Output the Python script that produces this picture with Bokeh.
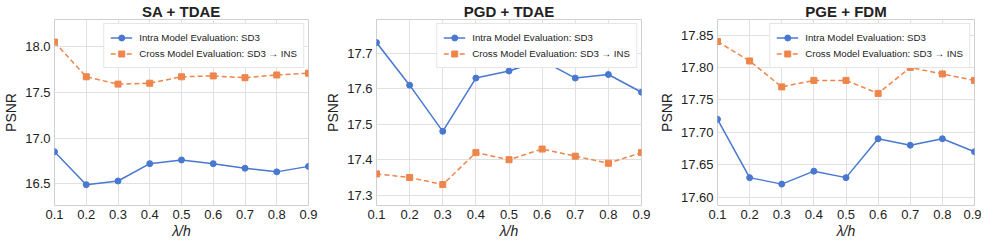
from bokeh.plotting import figure
from bokeh.layouts import row
from bokeh.models import Range1d, FixedTicker, Legend, LegendItem, PrintfTickFormatter
from bokeh.embed import file_html
from bokeh.resources import INLINE

lam = [0.1, 0.2, 0.3, 0.4, 0.5, 0.6, 0.7, 0.8, 0.9]
x_ticks = [0.1, 0.2, 0.3, 0.4, 0.5, 0.6, 0.7, 0.8, 0.9]

titles = ["SA + TDAE", "PGD + TDAE", "PGE + FDM"]

sa_intra = [16.85, 16.49, 16.53, 16.72, 16.76, 16.72, 16.67, 16.63, 16.69]
sa_cross = [18.05, 17.67, 17.59, 17.60, 17.67, 17.68, 17.66, 17.69, 17.71]

pgd_intra = [17.73, 17.61, 17.48, 17.63, 17.65, 17.68, 17.63, 17.64, 17.59]
pgd_cross = [17.36, 17.35, 17.33, 17.42, 17.40, 17.43, 17.41, 17.39, 17.42]

pge_intra = [17.72, 17.63, 17.62, 17.64, 17.63, 17.69, 17.68, 17.69, 17.67]
pge_cross = [17.84, 17.81, 17.77, 17.78, 17.78, 17.76, 17.80, 17.79, 17.78]

y_ticks_sa = [16.5, 17.0, 17.5, 18.0]
y_ticks_pgd = [17.3, 17.4, 17.5, 17.6, 17.7]
y_ticks_pge = [17.60, 17.65, 17.70, 17.75, 17.80, 17.85]

y_ranges = [(16.262, 18.297), (17.271, 17.795), (17.587, 17.874)]
y_formats = ["%.1f", "%.1f", "%.2f"]

x_label = "\u03bb/h"
y_label = "PSNR"
intra_label = "Intra Model Evaluation: SD3"
cross_label = "Cross Model Evaluation: SD3 \u2192 INS"

BLUE = "#4878d0"
ORANGE = "#ee854a"
FONT = "Liberation Sans"

panels = [
    (titles[0], sa_intra, sa_cross, y_ticks_sa),
    (titles[1], pgd_intra, pgd_cross, y_ticks_pgd),
    (titles[2], pge_intra, pge_cross, y_ticks_pge),
]
widths = [322, 333, 326]
lefts = [41, 52, 52]
rights = [14, 14, 7]

figs = []
for i, (title, intra, cross, yt) in enumerate(panels):
    p = figure(width=widths[i], height=241, output_backend="svg", toolbar_location=None,
               x_range=Range1d(0.1, 0.9), y_range=Range1d(*y_ranges[i]),
               min_border_left=lefts[i], min_border_right=rights[i],
               min_border_top=0, min_border_bottom=0)
    p.title.text = title
    p.title.align = "center"
    p.title.text_font = FONT
    p.title.text_font_size = "15px"
    p.title.text_font_style = "bold"
    p.title.text_color = "#222222"
    p.title.standoff = 0
    p.title.offset = 0

    p.xaxis.ticker = FixedTicker(ticks=x_ticks)
    p.yaxis.ticker = FixedTicker(ticks=yt)
    p.yaxis.formatter = PrintfTickFormatter(format=y_formats[i])
    p.xaxis.formatter = PrintfTickFormatter(format="%.1f")
    for ax in (p.xaxis, p.yaxis):
        ax.axis_line_color = None
        ax.major_tick_line_color = None
        ax.minor_tick_line_color = None
        ax.major_tick_out = 0
        ax.major_tick_in = 0
        ax.major_label_text_font = FONT
        ax.major_label_text_font_size = "13px"
        ax.major_label_text_color = "#222222"
        ax.axis_label_text_font = FONT
        ax.axis_label_text_font_size = "14px"
        ax.axis_label_text_color = "#222222"
        ax.axis_label_text_font_style = "normal"
    p.yaxis.axis_label = y_label
    p.xaxis.axis_label = x_label
    p.xaxis.axis_label_text_font_style = "italic"
    p.xaxis.major_label_standoff = 4
    p.yaxis.major_label_standoff = 4
    p.xaxis.axis_label_standoff = 1
    p.yaxis.axis_label_standoff = 3

    p.xgrid.grid_line_color = "#e0e0e0"
    p.ygrid.grid_line_color = "#e0e0e0"
    p.xgrid.grid_line_width = 1
    p.ygrid.grid_line_width = 1
    p.outline_line_color = "#d0d0d0"
    p.outline_line_width = 1

    l1 = p.line(lam, intra, line_color=BLUE, line_width=1.5)
    m1 = p.scatter(lam, intra, marker="circle", size=6, fill_color=BLUE, line_color=BLUE)
    l2 = p.line(lam, cross, line_color=ORANGE, line_width=1.5, line_dash="5 3")
    m2 = p.scatter(lam, cross, marker="square", size=6, fill_color=ORANGE, line_color=ORANGE)

    legend = Legend(items=[LegendItem(label=intra_label, renderers=[l1, m1]),
                           LegendItem(label=cross_label, renderers=[l2, m2])],
                    location="top_right")
    legend.margin = 4
    legend.padding = 6
    legend.spacing = 1
    legend.label_text_font = FONT
    legend.label_text_font_size = "9.7px"
    legend.label_text_color = "#222222"
    legend.label_height = 15
    legend.glyph_height = 15
    legend.glyph_width = 22
    legend.label_standoff = 7
    legend.border_line_color = "#cccccc"
    legend.border_line_width = 1
    legend.background_fill_color = "white"
    legend.background_fill_alpha = 1.0
    p.add_layout(legend, "center")
    figs.append(p)

layout = row(*figs, spacing=0)
open("out.html", "w").write(file_html(layout, INLINE))
